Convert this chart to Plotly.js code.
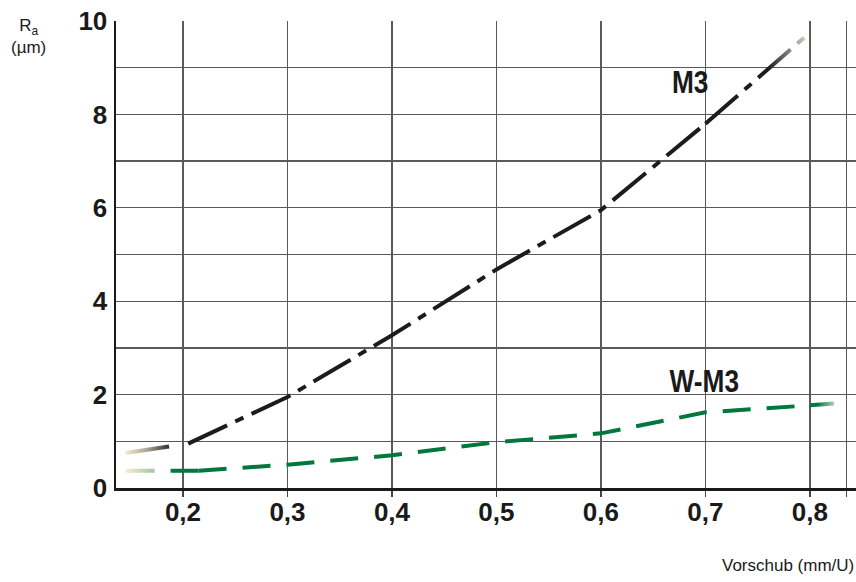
<!DOCTYPE html>
<html>
<head>
<meta charset="utf-8">
<script src="https://cdn.plot.ly/plotly-3.0.1.min.js"></script>
<style>
html,body{margin:0;padding:0;background:#fff;}
#chart{width:856px;height:582px;}
</style>
</head>
<body>
<div id="chart"></div>
<script>
// Feed (mm/U)
var m3X = [0.145, 0.205, 0.3, 0.4, 0.5, 0.6, 0.7, 0.8];
var m3Y = [0.75, 0.95, 1.95, 3.27, 4.68, 5.95, 7.8, 9.75];
var wm3X = [0.145, 0.215, 0.3, 0.4, 0.5, 0.6, 0.7, 0.8, 0.823];
var wm3Y = [0.37, 0.37, 0.5, 0.7, 0.98, 1.17, 1.62, 1.77, 1.81];
var xTickVals = [0.2, 0.3, 0.4, 0.5, 0.6, 0.7, 0.8, 0.835];
var xTickText = ['0,2', '0,3', '0,4', '0,5', '0,6', '0,7', '0,8', ''];
var yTickVals = [0, 1, 2, 3, 4, 5, 6, 7, 8, 9, 10];
var yTickText = ['0', '', '2', '', '4', '', '6', '', '8', '', '10'];
var seriesNames = ['M3', 'W-M3'];

var black = '#1c1c1c';
var green = '#00773b';

var traces = [
  // 0: M3 start fade
  {x: m3X.slice(0, 2), y: m3Y.slice(0, 2), mode: 'lines', line: {color: black, width: 4, dash: '44px,40px'}, hoverinfo: 'skip', showlegend: false},
  // 1: M3 main
  {x: m3X.slice(1, 7), y: m3Y.slice(1, 7), mode: 'lines', name: seriesNames[0], line: {color: black, width: 4, dash: '43px,9px,9px,9px'}, showlegend: false},
  // 2: M3 end fade
  {x: m3X.slice(6), y: m3Y.slice(6), mode: 'lines', line: {color: black, width: 4, dash: '43px,9px,9px,9px'}, hoverinfo: 'skip', showlegend: false},
  // 3: W-M3 start fade
  {x: wm3X.slice(0, 2), y: wm3Y.slice(0, 2), mode: 'lines', line: {color: green, width: 4, dash: '29px,16px'}, hoverinfo: 'skip', showlegend: false},
  // 4: W-M3 main
  {x: wm3X.slice(1, 8), y: wm3Y.slice(1, 8), mode: 'lines', name: seriesNames[1], line: {color: green, width: 4, dash: '28px,16px'}, showlegend: false},
  // 5: W-M3 end fade
  {x: wm3X.slice(7), y: wm3Y.slice(7), mode: 'lines', line: {color: green, width: 4}, hoverinfo: 'skip', showlegend: false}
];

var tickFont = {family: 'Liberation Sans, Arial, sans-serif', size: 26, color: '#1a1a1a', weight: 'bold'};
var labelFont = {family: 'Liberation Sans, Arial, sans-serif', size: 32, color: '#1a1a1a', weight: 'bold'};

var layout = {
  width: 856, height: 582,
  margin: {l: 116, r: 0, t: 21, b: 94},
  paper_bgcolor: '#ffffff', plot_bgcolor: '#ffffff',
  showlegend: false,
  xaxis: {
    range: [0.1359, 0.8441],
    tickvals: xTickVals, ticktext: xTickText,
    showgrid: true, gridcolor: '#5a5a5a', gridwidth: 1.3,
    zeroline: false,
    showline: true, linecolor: '#1a1a1a', linewidth: 2.5,
    ticks: 'outside', ticklen: 6, tickcolor: '#444', tickwidth: 1.3,
    tickfont: tickFont, ticklabelstandoff: -7
  },
  yaxis: {
    range: [0, 10],
    tickvals: yTickVals, ticktext: yTickText,
    showgrid: true, gridcolor: '#5a5a5a', gridwidth: 1.3,
    zeroline: false,
    showline: true, linecolor: '#1a1a1a', linewidth: 2.5,
    ticks: '', tickfont: tickFont, ticklabelstandoff: 1
  },
  annotations: [
    {xref: 'x', yref: 'y', x: 0.6855, y: 8.7, text: seriesNames[0], showarrow: false, font: labelFont, xanchor: 'center', yanchor: 'middle'},
    {xref: 'x', yref: 'y', x: 0.6995, y: 2.3, text: seriesNames[1], showarrow: false, font: labelFont, xanchor: 'center', yanchor: 'middle'},
    {xref: 'paper', yref: 'paper', x: -0.118, y: 1.015, text: 'R<sub>a</sub><br>(µm)', showarrow: false, align: 'center',
     font: {family: 'Liberation Sans, Arial, sans-serif', size: 17, color: '#1a1a1a'}, xanchor: 'center', yanchor: 'top'},
    {xref: 'paper', yref: 'paper', x: 1.0, y: -0.165, text: 'Vorschub (mm/U)', showarrow: false,
     font: {family: 'Liberation Sans, Arial, sans-serif', size: 17, color: '#1a1a1a'}, xanchor: 'right', yanchor: 'middle'}
  ]
};

Plotly.newPlot('chart', traces, layout, {staticPlot: true}).then(function () {
  var svg = document.querySelector('#chart .main-svg');
  var ns = 'http://www.w3.org/2000/svg';
  var defs = svg.querySelector('defs') || svg.insertBefore(document.createElementNS(ns, 'defs'), svg.firstChild);
  function grad(id, stops, el) {
    var bb = el.getBBox();
    var g = document.createElementNS(ns, 'linearGradient');
    g.setAttribute('id', id);
    g.setAttribute('gradientUnits', 'userSpaceOnUse');
    g.setAttribute('x1', bb.x); g.setAttribute('y1', bb.y + bb.height / 2);
    g.setAttribute('x2', bb.x + bb.width); g.setAttribute('y2', bb.y + bb.height / 2);
    stops.forEach(function (s) {
      var st = document.createElementNS(ns, 'stop');
      st.setAttribute('offset', s[0]);
      st.setAttribute('stop-color', s[1]);
      g.appendChild(st);
    });
    defs.appendChild(g);
    el.style.stroke = 'url(#' + id + ')';
  }
  var lines = document.querySelectorAll('#chart .scatterlayer .trace path.js-line');
  grad('gM3s', [['0', '#f4eccb'], ['0.35', '#a7a394'], ['0.75', black], ['1', black]], lines[0]);
  grad('gM3e', [['0', black], ['0.6', black], ['0.85', '#9a9a92'], ['1', '#e6e0c4']], lines[2]);
  grad('gWs', [['0', '#f6efcf'], ['0.4', '#9cc5a4'], ['0.65', green], ['1', green]], lines[3]);
  grad('gWe', [['0', green], ['0.3', green], ['1', '#a9d0b4']], lines[5]);

  // condensed look for the series labels
  var ann = document.querySelectorAll('#chart .annotation-text');
  [0, 1].forEach(function (i) {
    var t = ann[i];
    if (!t) return;
    var bb = t.getBBox();
    var cx = bb.x + bb.width / 2;
    var ex = t.getAttribute('transform') || '';
    t.setAttribute('transform', ex + ' translate(' + cx + ',0) scale(0.82,1) translate(' + (-cx) + ',0)');
  });
});
</script>
</body>
</html>
